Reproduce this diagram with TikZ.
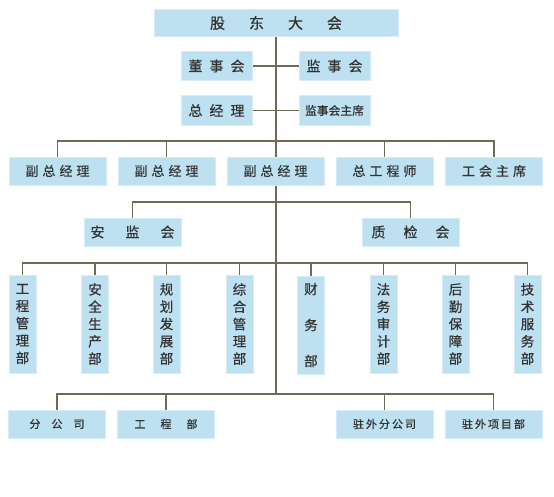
\documentclass[tikz,border=0pt]{standalone}
\usepackage{fontspec}
\newfontfamily\cjk[FakeBold=0.6]{Noto Sans CJK SC}
\usetikzlibrary{backgrounds}
\definecolor{boxblue}{HTML}{BDE1F1}
\definecolor{boxedge}{HTML}{D6EDF7}
\definecolor{linec}{HTML}{6E6A55}
\definecolor{txt}{HTML}{333333}
\tikzset{
  box/.style={rectangle, fill=boxblue, draw=boxedge, line width=0.6pt, inner sep=0pt, text=txt, font=\cjk\fontsize{13}{15}\selectfont},
  hbox/.style={box, minimum width=97pt, minimum height=28pt},
  sbox/.style={box, minimum width=71pt, minimum height=29.5pt},
  vbox/.style={box, minimum width=27pt, minimum height=98pt, align=center, font=\cjk\fontsize{13.5}{17.3}\selectfont},
  bbox/.style={box, minimum width=97pt, minimum height=28pt, font=\cjk\fontsize{11}{13}\selectfont},
  conn/.style={draw=linec, line width=1.3pt},
}
\begin{document}
\begin{tikzpicture}[x=1pt,y=-1pt]
\useasboundingbox (0,0) rectangle (554,496);
% top
\node[box, minimum width=244pt, minimum height=27pt, font=\cjk\fontsize{15}{17}\selectfont] (gd) at (276,23) {股\hspace{24pt}东\hspace{24pt}大\hspace{24pt}会};
\node[sbox, font=\cjk\fontsize{14}{16}\selectfont] (dsh) at (216.5,66) {董\hspace{7pt}事\hspace{7pt}会};
\node[sbox, font=\cjk\fontsize{14}{16}\selectfont] (jsh) at (334.5,66) {监\hspace{7pt}事\hspace{7pt}会};
\node[sbox, font=\cjk\fontsize{14}{16}\selectfont] (zjl) at (216.5,110.5) {总\hspace{7pt}经\hspace{7pt}理};
\node[sbox, font=\cjk\fontsize{11.8}{14}\selectfont] (jshzx) at (334.5,110.5) {监事会主席};
% row of five
\node[hbox] (fz1) at (57.5,171) {副\hspace{4pt}总\hspace{4pt}经\hspace{4pt}理};
\node[hbox] (fz2) at (166.5,171) {副\hspace{4pt}总\hspace{4pt}经\hspace{4pt}理};
\node[hbox] (fz3) at (275.5,171) {副\hspace{4pt}总\hspace{4pt}经\hspace{4pt}理};
\node[hbox] (zgcs) at (384.5,171) {总\hspace{4pt}工\hspace{4pt}程\hspace{4pt}师};
\node[hbox] (ghzx) at (494,171) {工\hspace{4pt}会\hspace{4pt}主\hspace{4pt}席};
% committees
\node[hbox, font=\cjk\fontsize{14}{16}\selectfont] (ajh) at (132.5,232) {安\hspace{21pt}监\hspace{21pt}会};
\node[hbox, font=\cjk\fontsize{14}{16}\selectfont] (zjh) at (410.5,232) {质\hspace{18pt}检\hspace{18pt}会};
% vertical departments
\node[vbox] (v1) at (22.5,324) {工\\程\\管\\理\\部};
\node[vbox] (v2) at (95,324) {安\\全\\生\\产\\部};
\node[vbox] (v3) at (166.5,324) {规\\划\\发\\展\\部};
\node[vbox] (v4) at (239.5,324) {综\\合\\管\\理\\部};
\node[vbox, font=\cjk\fontsize{13.5}{36}\selectfont] (v5) at (311,325) {财\\务\\部};
\node[vbox] (v6) at (383.5,324) {法\\务\\审\\计\\部};
\node[vbox] (v7) at (455.5,324) {后\\勤\\保\\障\\部};
\node[vbox] (v8) at (527.5,324) {技\\术\\服\\务\\部};
% bottom
\node[bbox] (fgs) at (57,424) {分\hspace{11pt}公\hspace{11pt}司};
\node[bbox] (gcb) at (166,424) {工\hspace{15pt}程\hspace{15pt}部};
\node[bbox] (zwfgs) at (384.5,424) {驻\hspace{2pt}外\hspace{2pt}分\hspace{2pt}公\hspace{2pt}司};
\node[bbox] (zwxm) at (493.5,424) {驻\hspace{2pt}外\hspace{2pt}项\hspace{2pt}目\hspace{2pt}部};
% bus coordinates on the trunk
\coordinate (b1) at (276,141);
\coordinate (b2) at (276,202);
\coordinate (b3) at (276,263);
\coordinate (b4) at (276,394);
\begin{scope}[on background layer]
\draw[conn] (gd.south) -- (b4);
\draw[conn] (dsh.east) -- (jsh.west);
\draw[conn] (zjl.east) -- (jshzx.west);
\draw[conn] (fz1.north) |- (b1) -| (ghzx.north);
\draw[conn] (fz2.north) -- (fz2.north |- b1);
\draw[conn] (zgcs.north) -- (zgcs.north |- b1);
\draw[conn] (ajh.north) |- (b2) -| (zjh.north);
\draw[conn] (v1.north) |- (b3) -| (v8.north);
\foreach \n in {v2,v3,v4,v5,v6,v7} \draw[conn] (\n.north) -- (\n.north |- b3);
\draw[conn] (fgs.north) |- (b4) -| (zwxm.north);
\draw[conn] (gcb.north) -- (gcb.north |- b4);
\draw[conn] (zwfgs.north) -- (zwfgs.north |- b4);
\end{scope}
\end{tikzpicture}
\end{document}
